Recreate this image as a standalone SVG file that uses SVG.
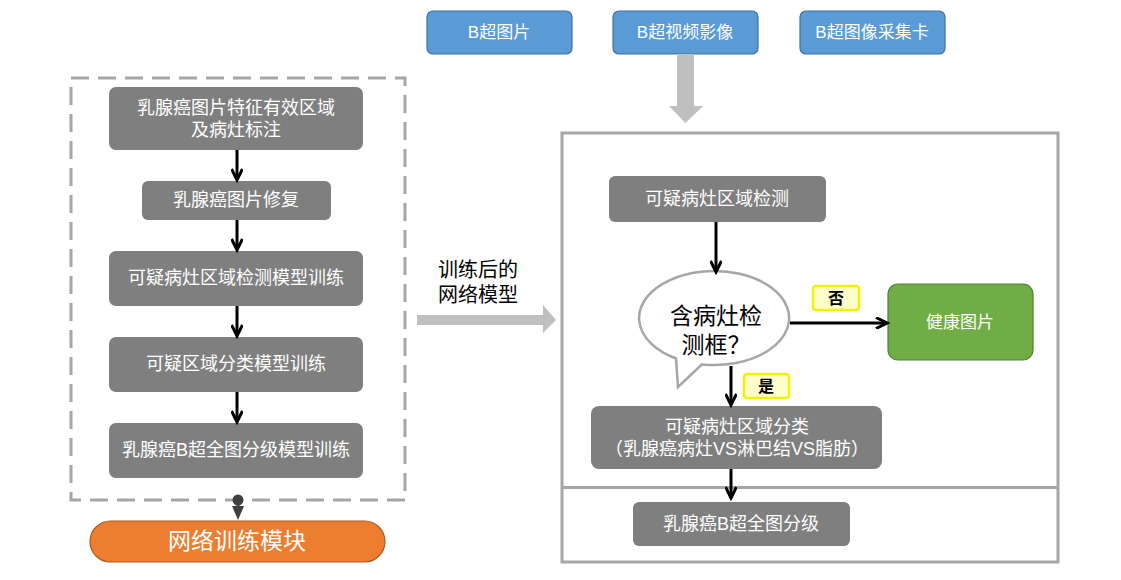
<svg xmlns="http://www.w3.org/2000/svg" width="1121" height="580" viewBox="0 0 1121 580">
<defs>
<style>
text{font-family:"Liberation Sans","Noto Sans CJK SC",sans-serif;text-anchor:middle;dominant-baseline:central}
.g{fill:#7f7f7f}
.gt{fill:#fff;font-size:18px}
.bt{fill:#fff;font-size:17px}
.blue{fill:#5b9bd5;stroke:#41719c;stroke-width:1.2}
.arr{stroke:#000;stroke-width:3;fill:none;marker-end:url(#v)}
.lab{fill:#ffffcc;stroke:#f2f200;stroke-width:2.5}
.lt{fill:#000;font-size:16px;font-weight:bold}
</style>
<marker id="v" markerUnits="userSpaceOnUse" viewBox="0 0 16 12" markerWidth="16" markerHeight="12" refX="13" refY="6" orient="auto">
<path d="M2 0.5 L13 6 L2 11.5" fill="none" stroke="#000" stroke-width="3"/>
</marker>
</defs>
<rect width="1121" height="580" fill="#fff"/>

<g id="left-frame">
<rect x="71" y="78" width="334" height="422" fill="none" stroke="#a6a6a6" stroke-width="3" stroke-dasharray="18 9"/>
</g>

<g id="n1"><rect class="g" x="109" y="87" width="254" height="63" rx="7"/><text class="gt" x="236" y="108"><tspan x="236">乳腺癌图片特征有效区域</tspan><tspan x="236" dy="22">及病灶标注</tspan></text></g>
<g id="n2"><rect class="g" x="142" y="181" width="189" height="39" rx="6"/><text class="gt" x="236" y="200">乳腺癌图片修复</text></g>
<g id="n3"><rect class="g" x="109" y="251" width="254" height="55" rx="7"/><text class="gt" x="236" y="278">可疑病灶区域检测模型训练</text></g>
<g id="n4"><rect class="g" x="109" y="337" width="254" height="55" rx="7"/><text class="gt" x="236" y="364">可疑区域分类模型训练</text></g>
<g id="n5"><rect class="g" x="109" y="423" width="254" height="55" rx="7"/><text class="gt" x="236" y="450">乳腺癌B超全图分级模型训练</text></g>
<g id="n6"><rect x="90" y="521" width="295" height="41" rx="20.5" fill="#ed7d31" stroke="#ae5a21" stroke-width="1.2"/><text x="237" y="541" fill="#fff" font-size="23">网络训练模块</text></g>

<g id="b1"><rect class="blue" x="427" y="11" width="145" height="43" rx="6"/><text class="bt" x="499" y="32">B超图片</text></g>
<g id="b2"><rect class="blue" x="613" y="11" width="145" height="43" rx="6"/><text class="bt" x="685" y="32">B超视频影像</text></g>
<g id="b3"><rect class="blue" x="800" y="11" width="145" height="43" rx="6"/><text class="bt" x="872" y="32">B超图像采集卡</text></g>

<g id="right-frame">
<rect x="562" y="133" width="496" height="429" fill="none" stroke="#a6a6a6" stroke-width="3"/>
<line x1="562" y1="487.5" x2="1058" y2="487.5" stroke="#a6a6a6" stroke-width="3"/>
</g>

<g id="r1"><rect class="g" x="609" y="176" width="217" height="46" rx="6"/><text class="gt" x="717" y="199">可疑病灶区域检测</text></g>
<g id="r2"><path d="M702 364.4 A75 47 0 1 0 676 358.5 L678 387 Z" fill="#fff" stroke="#a6a6a6" stroke-width="2.5"/><text x="716" y="316" fill="#000" font-size="23"><tspan x="716">含病灶检</tspan><tspan x="716" dy="29">测框？</tspan></text></g>
<g id="r3"><rect x="888" y="284" width="145" height="76" rx="10" fill="#70ad47" stroke="#507e32" stroke-width="1.2"/><text class="bt" x="960" y="322">健康图片</text></g>
<g id="r4"><rect class="g" x="591" y="406" width="291" height="63" rx="8"/><text class="gt" x="737" y="427"><tspan x="737">可疑病灶区域分类</tspan><tspan x="737" dy="22">（乳腺癌病灶VS淋巴结VS脂肪）</tspan></text></g>
<g id="r5"><rect class="g" x="633" y="502" width="217" height="44" rx="6"/><text class="gt" x="741" y="524">乳腺癌B超全图分级</text></g>

<g id="labels">
<rect class="lab" x="813" y="286" width="46" height="24" rx="3"/><text class="lt" x="836" y="298">否</text>
<rect class="lab" x="744" y="374" width="45" height="24" rx="3"/><text class="lt" x="766" y="386">是</text>
<text x="478" y="270" fill="#000" font-size="20"><tspan x="478">训练后的</tspan><tspan x="478" dy="25">网络模型</tspan></text>
</g>

<g id="connectors">
<line class="arr" x1="237" y1="150" x2="237" y2="180"/>
<line class="arr" x1="237" y1="220" x2="237" y2="250"/>
<line class="arr" x1="237" y1="306" x2="237" y2="336"/>
<line class="arr" x1="237" y1="392" x2="237" y2="422"/>
<circle cx="238" cy="500" r="5.5" fill="#404040"/>
<line x1="238" y1="500" x2="238" y2="508" stroke="#404040" stroke-width="3"/>
<polygon points="232,506 244,506 238,520" fill="#404040"/>
<polygon points="677,54 694,54 694,106 703,106 685.5,123 669,106 677,106" fill="#bfbfbf"/>
<polygon points="417,315 543,315 543,305 556,320 543,333 543,325 417,325" fill="#bfbfbf"/>
<line class="arr" x1="716" y1="222" x2="716" y2="272"/>
<line class="arr" x1="790" y1="323" x2="887" y2="323"/>
<line class="arr" x1="731" y1="366" x2="731" y2="405"/>
<line class="arr" x1="731" y1="469" x2="731" y2="498"/>
</g>
</svg>
